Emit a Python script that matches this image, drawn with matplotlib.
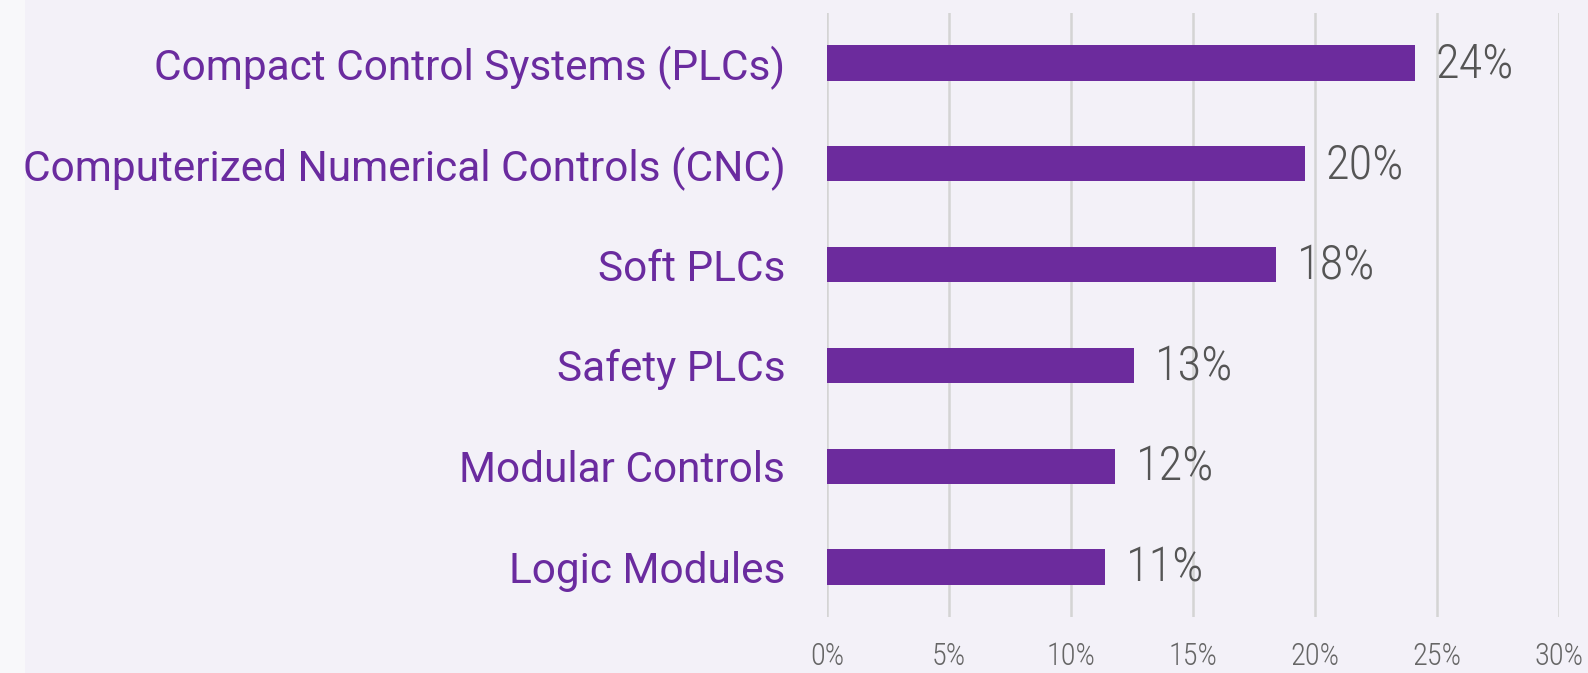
import matplotlib
matplotlib.use("Agg")
import matplotlib.pyplot as plt
from matplotlib.patches import Rectangle

# Share of respondents by controller type
categories = ["Compact Control Systems (PLCs)", "Computerized Numerical Controls (CNC)",
              "Soft PLCs", "Safety PLCs", "Modular Controls", "Logic Modules"]
values = [24.1, 19.6, 18.4, 12.6, 11.8, 11.4]
value_labels = ["24%", "20%", "18%", "13%", "12%", "11%"]
x_ticks = [0, 5, 10, 15, 20, 25, 30]
x_tick_labels = ["0%", "5%", "10%", "15%", "20%", "25%", "30%"]

bg = "#f3f1f8"
bar_color = "#6c2b9d"
label_color = "#6a2b9f"
value_color = "#555555"
light_font = ["Roboto Condensed", "DejaVu Sans"]

fig = plt.figure(figsize=(15.88, 6.73), dpi=100)
fig.patch.set_facecolor(bg)
# lighter strip down the left edge
fig.patches.append(Rectangle((0, 0), 25 / 1588, 1, transform=fig.transFigure,
                             facecolor="#f8f8fa", edgecolor="none", zorder=0))

ax = fig.add_axes([0.5208, 0.0826, 0.4607, 0.8987])
ax.set_facecolor(bg)

y = range(len(categories))
ax.barh(y, values, height=0.35, color=bar_color, zorder=3)
for yi, v, lab in zip(y, values, value_labels):
    ax.annotate(lab, (v, yi), xytext=(15, -1), textcoords="offset points",
                va="center", ha="left", fontsize=35, color=value_color,
                family=light_font, weight=300)

ax.set_xlim(0, 30)
ax.set_ylim(5.5, -0.5)
ax.set_xticks(x_ticks)
ax.set_xticklabels(x_tick_labels, fontsize=22, color="#666666",
                   family=light_font, weight=300)
ax.set_yticks(list(y))
ax.set_yticklabels(categories, fontsize=30.5, color=label_color,
                   family=["Roboto", "DejaVu Sans"])
ax.tick_params(axis="both", length=0)
ax.tick_params(axis="y", pad=30)
ax.tick_params(axis="x", pad=18)
ax.grid(axis="x", color="#d4d4d4", linewidth=1.8, zorder=0)
for s in ax.spines.values():
    s.set_visible(False)

fig.savefig("out.png", dpi=100, facecolor=bg)
